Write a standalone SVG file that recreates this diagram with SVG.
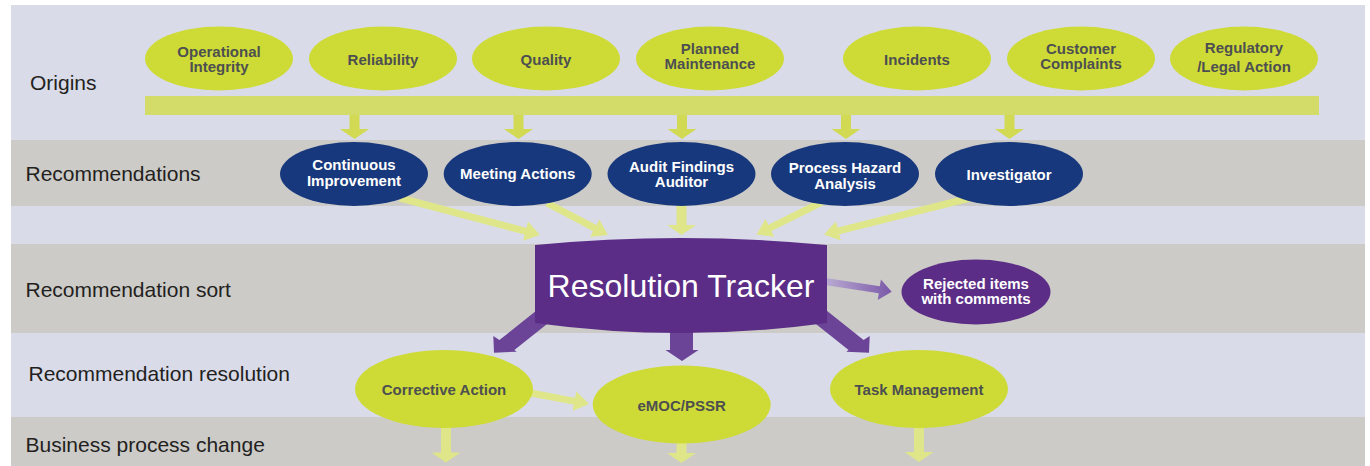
<svg xmlns="http://www.w3.org/2000/svg" width="1370" height="466" viewBox="0 0 1370 466">
<style>
.bl{fill:#d9dbe9}.bg{fill:#cccbc8}
.lab{font-family:"Liberation Sans",Arial,sans-serif;font-size:21px;fill:#231f20}
.lime{fill:#cedb36}.navy{fill:#17387c}.purp{fill:#5b2d86}
.tg{font-family:"Liberation Sans",Arial,sans-serif;font-size:15px;font-weight:bold;fill:#4d4f50;text-anchor:middle}
.tw{font-family:"Liberation Sans",Arial,sans-serif;font-size:15px;font-weight:bold;fill:#ffffff;text-anchor:middle}
.cy{stroke:#dfe68a;stroke-width:7;fill:none;marker-end:url(#hY)}
.dA{fill:#d1da52}.dL{fill:#dfe68a}.pA{fill:#6b4497}
</style>
<defs>
<marker id="hY" markerUnits="userSpaceOnUse" markerWidth="15" markerHeight="20" refX="5" refY="10" orient="auto" viewBox="0 0 15 20"><path d="M0,0 L15,10 L0,20 Z" fill="#dfe68a"/></marker>
<path id="dn" d="M-5,-40 L5,-40 L5,-10 L14.5,-10 L0,0 L-14.5,-10 L-5,-10 Z"/>
<linearGradient id="gP" gradientUnits="userSpaceOnUse" x1="815" y1="0" x2="892" y2="0"><stop offset="0" stop-color="#c4b8d8"/><stop offset="1" stop-color="#7a58a8"/></linearGradient>
</defs>
<g id="bands">
<rect class="bl" x="11" y="5" width="1354" height="135"/>
<rect class="bg" x="11" y="140" width="1354" height="66"/>
<rect class="bl" x="11" y="206" width="1354" height="38"/>
<rect class="bg" x="11" y="244" width="1354" height="89"/>
<rect class="bl" x="11" y="333" width="1354" height="84"/>
<rect class="bg" x="11" y="417" width="1354" height="49"/>
<text class="lab" x="30" y="90">Origins</text>
<text class="lab" x="25.5" y="181">Recommendations</text>
<text class="lab" x="25.5" y="297">Recommendation sort</text>
<text class="lab" x="28.5" y="381">Recommendation resolution</text>
<text class="lab" x="25.5" y="452">Business process change</text>
</g>
<g id="connectors">
<use href="#dn" class="dA" x="354.5" y="139"/>
<use href="#dn" class="dA" x="518.5" y="139"/>
<use href="#dn" class="dA" x="682" y="139"/>
<use href="#dn" class="dA" x="846" y="139"/>
<use href="#dn" class="dA" x="1009.5" y="139"/>
<rect x="145" y="96" width="1174" height="19" fill="#d3dc69"/>
<line class="cy" x1="400" y1="198" x2="530.3" y2="232.4"/>
<line class="cy" x1="547" y1="203" x2="599.1" y2="230.4"/>
<use href="#dn" class="dL" x="681.5" y="235"/>
<line class="cy" x1="822" y1="202" x2="765.5" y2="230.1"/>
<line class="cy" x1="970" y1="198" x2="833.7" y2="232.1"/>
<polygon fill="url(#gP)" points="812.6,275.9 879.8,286.3 880.9,279.6 891.7,291.7 877.7,300 878.8,293.3 811.6,282.9"/>
<polygon class="pA" points="550.6,299.2 499.4,340.1 493.3,336 494,352.7 516.7,351.7 514.4,350.1 561.2,312.7"/>
<polygon class="pA" points="670,320 693,320 693,350 698.5,350 682,361 665.5,350 670,350"/>
<polygon class="pA" points="812.4,299.2 863.6,340.1 869.7,336 869,352.7 846.3,351.7 848.6,350.1 801.8,312.7"/>
<line class="cy" x1="520" y1="391" x2="579.2" y2="402.1"/>
<use href="#dn" class="dL" x="446" y="462.5"/>
<use href="#dn" class="dL" x="681.5" y="463"/>
<use href="#dn" class="dL" x="919" y="462"/>
</g>
<g id="n-operational"><ellipse class="lime" cx="219" cy="58.5" rx="74" ry="32"/><text class="tg" x="219" y="57">Operational</text><text class="tg" x="219" y="72">Integrity</text></g>
<g id="n-reliability"><ellipse class="lime" cx="383" cy="58.5" rx="74" ry="32"/><text class="tg" x="383" y="65">Reliability</text></g>
<g id="n-quality"><ellipse class="lime" cx="546" cy="58.5" rx="74" ry="32"/><text class="tg" x="546" y="65">Quality</text></g>
<g id="n-planned"><ellipse class="lime" cx="710" cy="58.5" rx="74" ry="32"/><text class="tg" x="710" y="53.5">Planned</text><text class="tg" x="710" y="69">Maintenance</text></g>
<g id="n-incidents"><ellipse class="lime" cx="917" cy="58.5" rx="74" ry="32"/><text class="tg" x="917" y="65">Incidents</text></g>
<g id="n-customer"><ellipse class="lime" cx="1081" cy="58.5" rx="74" ry="32"/><text class="tg" x="1081" y="53.5">Customer</text><text class="tg" x="1081" y="69">Complaints</text></g>
<g id="n-regulatory"><ellipse class="lime" cx="1244" cy="58.5" rx="74" ry="32"/><text class="tg" x="1244" y="53">Regulatory</text><text class="tg" x="1244" y="71.5">/Legal Action</text></g>
<g id="n-continuous"><ellipse class="navy" cx="354" cy="174" rx="74" ry="32"/><text class="tw" x="354" y="170">Continuous</text><text class="tw" x="354" y="185.5">Improvement</text></g>
<g id="n-meeting"><ellipse class="navy" cx="517.7" cy="174" rx="74" ry="32"/><text class="tw" x="517.7" y="179">Meeting Actions</text></g>
<g id="n-audit"><ellipse class="navy" cx="681.5" cy="174" rx="74" ry="32"/><text class="tw" x="681.5" y="171.5">Audit Findings</text><text class="tw" x="681.5" y="187">Auditor</text></g>
<g id="n-pha"><ellipse class="navy" cx="845" cy="174" rx="74" ry="32"/><text class="tw" x="845" y="173">Process Hazard</text><text class="tw" x="845" y="189">Analysis</text></g>
<g id="n-investigator"><ellipse class="navy" cx="1009" cy="174" rx="74" ry="32"/><text class="tw" x="1009" y="180">Investigator</text></g>
<g id="n-tracker"><path class="purp" d="M535,245 Q681,231 827,245 L827,323 Q681,343 535,323 Z"/><text x="681" y="297" text-anchor="middle" font-family="Liberation Sans, Arial, sans-serif" font-size="32" fill="#ffffff">Resolution Tracker</text></g>
<g id="n-rejected"><ellipse class="purp" cx="976" cy="292" rx="74.5" ry="32.5"/><text class="tw" x="976" y="288.5">Rejected items</text><text class="tw" x="976" y="304">with comments</text></g>
<g id="n-corrective"><ellipse class="lime" cx="444" cy="389" rx="89" ry="39"/><text class="tg" x="444" y="395">Corrective Action</text></g>
<g id="n-emoc"><ellipse class="lime" cx="681.7" cy="404.5" rx="89" ry="39"/><text class="tg" x="681.7" y="411">eMOC/PSSR</text></g>
<g id="n-task"><ellipse class="lime" cx="919" cy="389" rx="89" ry="39"/><text class="tg" x="919" y="395">Task Management</text></g>
</svg>
